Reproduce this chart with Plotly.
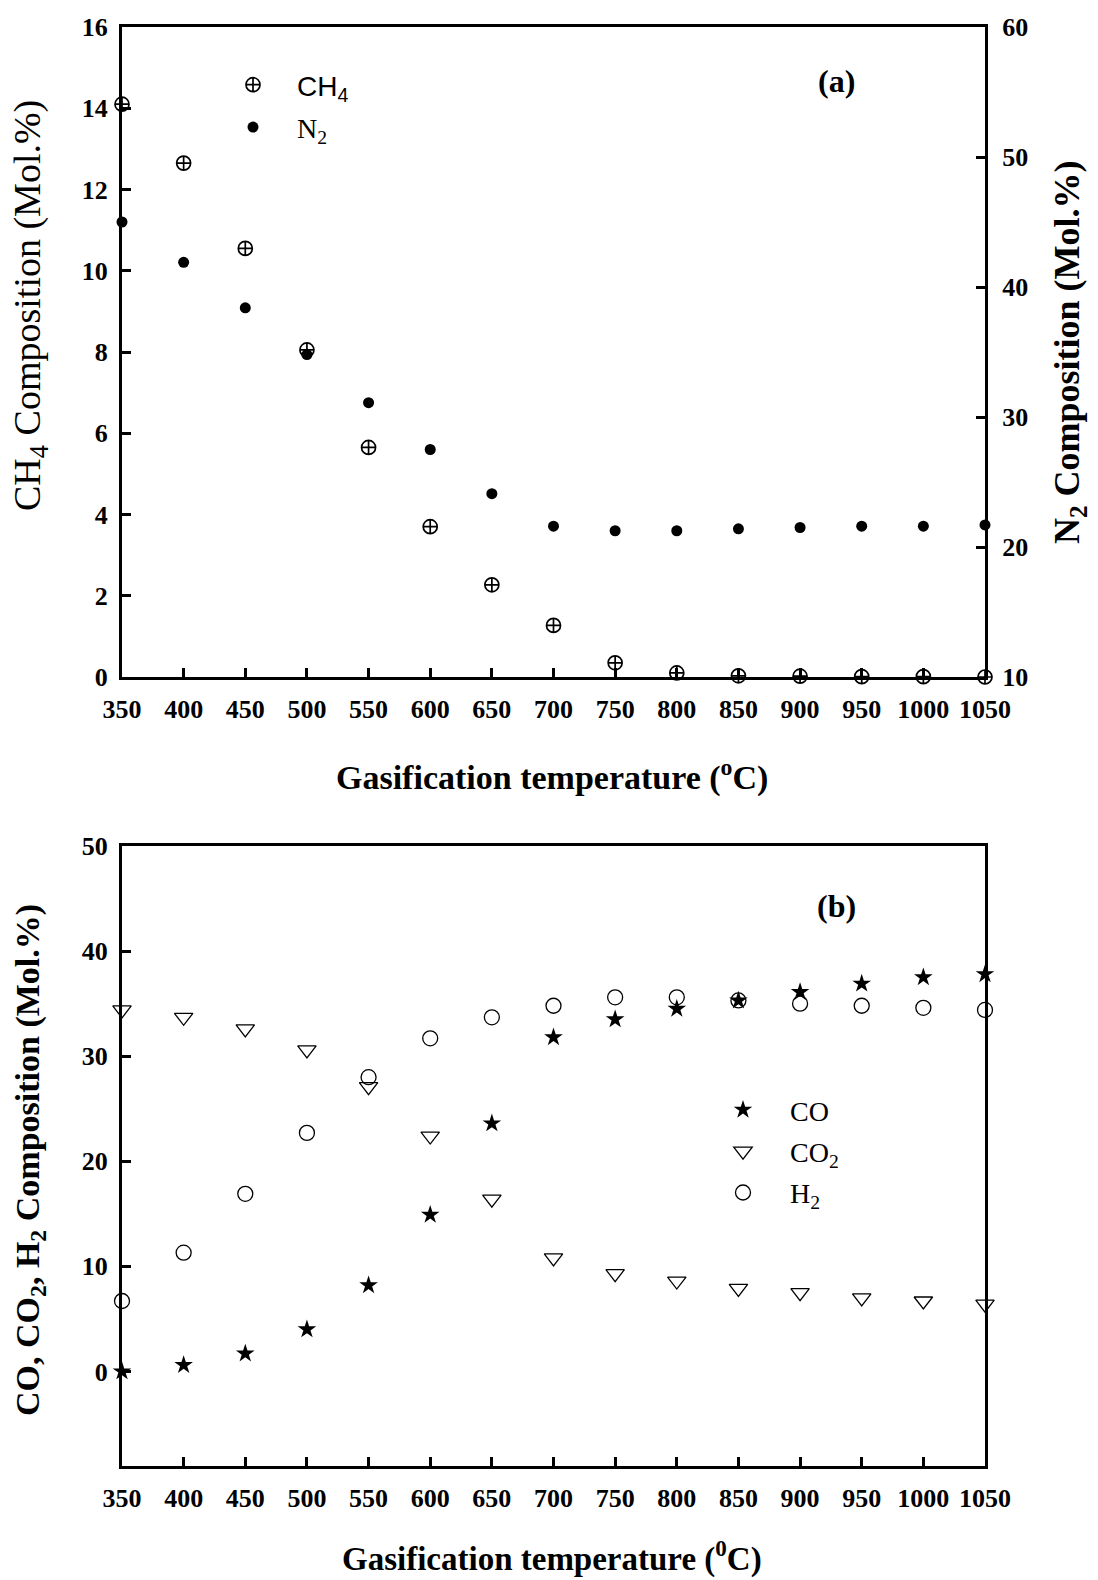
import plotly.graph_objects as go

temps = [350, 400, 450, 500, 550, 600, 650, 700, 750, 800, 850, 900, 950, 1000, 1050]
ch4 = [14.1, 12.65, 10.55, 8.05, 5.65, 3.7, 2.27, 1.27, 0.35, 0.1, 0.03, 0.02, 0.01, 0.01, 0.0]
n2 = [45.0, 41.9, 38.4, 34.8, 31.1, 27.5, 24.1, 21.6, 21.25, 21.25, 21.4, 21.5, 21.6, 21.6, 21.7]
co = [0.0, 0.6, 1.7, 4.0, 8.2, 14.9, 23.6, 31.8, 33.5, 34.5, 35.3, 36.1, 36.9, 37.5, 37.8]
co2 = [34.4, 33.7, 32.6, 30.6, 27.1, 22.4, 16.4, 10.8, 9.3, 8.6, 7.9, 7.5, 7.0, 6.7, 6.4]
h2 = [6.7, 11.3, 16.9, 22.7, 28.0, 31.7, 33.7, 34.8, 35.6, 35.6, 35.3, 35.0, 34.8, 34.6, 34.4]

W, H = 1098, 1580
SERIF = "Liberation Serif, Times New Roman, serif"

def px_x(v):
    return v / W

def px_y(v):
    return 1 - v / H

fig = go.Figure()

fig.add_trace(go.Scatter(x=temps, y=ch4, mode="markers", xaxis="x", yaxis="y",
                         name="<span style='font-family:Liberation Sans'>CH<sub>4</sub></span>",
                         marker=dict(symbol="circle-cross-open", size=14, color="black", line=dict(width=1.7)),
                         cliponaxis=False, legend="legend", legendgroup="a1"))
fig.add_trace(go.Scatter(x=temps, y=n2, mode="markers", xaxis="x", yaxis="y2",
                         name="N<sub>2</sub>",
                         marker=dict(symbol="circle", size=11, color="black"),
                         cliponaxis=False, legend="legend", legendgroup="a2"))

fig.add_trace(go.Scatter(x=temps, y=co, mode="markers", xaxis="x2", yaxis="y3",
                         name="CO",
                         marker=dict(symbol="star", size=14, color="black"),
                         cliponaxis=False, legend="legend2", legendgroup="b1"))
fig.add_trace(go.Scatter(x=temps, y=co2, mode="markers", xaxis="x2", yaxis="y3",
                         name="CO<sub>2</sub>",
                         marker=dict(symbol="triangle-down-open", size=16, color="black", line=dict(width=1.3)),
                         cliponaxis=False, legend="legend2", legendgroup="b2"))
fig.add_trace(go.Scatter(x=temps, y=h2, mode="markers", xaxis="x2", yaxis="y3",
                         name="H<sub>2</sub>",
                         marker=dict(symbol="circle-open", size=15, color="black", line=dict(width=1.3)),
                         cliponaxis=False, legend="legend2", legendgroup="b3"))

xdom = [px_x(122), px_x(985)]
tickfont = dict(family=SERIF, size=26, color="black", weight="bold")

common_x = dict(range=[350, 1050], tickvals=temps, ticks="inside", ticklen=9, tickwidth=2.5,
                showline=True, linewidth=3, linecolor="black", mirror=True, showgrid=False,
                zeroline=False, tickfont=tickfont, tickcolor="black", domain=xdom,
                ticklabelstandoff=7)

common_y = dict(ticks="inside", ticklen=9, tickwidth=2.5, showline=True, linewidth=3,
                linecolor="black", showgrid=False, zeroline=False, tickfont=tickfont,
                tickcolor="black")

fig.update_layout(
    width=W, height=H,
    margin=dict(l=0, r=0, t=0, b=0, autoexpand=False),
    paper_bgcolor="white", plot_bgcolor="white",
    showlegend=True,
    xaxis=dict(common_x, anchor="y"),
    yaxis=dict(common_y, domain=[px_y(677), px_y(27)], range=[0, 16], dtick=2, anchor="x",
               ticklabelstandoff=6),
    yaxis2=dict(common_y, range=[10, 60], dtick=10, overlaying="y", side="right", anchor="x",
                ticklabelstandoff=9),
    xaxis2=dict(common_x, anchor="y3"),
    yaxis3=dict(common_y, domain=[px_y(1466), px_y(846)], range=[-9, 50],
                tickvals=[0, 10, 20, 30, 40, 50], mirror=True, anchor="x2", ticklabelstandoff=6),
    legend=dict(x=px_x(209), y=px_y(60), xanchor="left", yanchor="top", bgcolor="rgba(0,0,0,0)",
                font=dict(family=SERIF, size=28, color="black"), tracegroupgap=3, itemwidth=78),
    legend2=dict(x=px_x(696), y=px_y(1085), xanchor="left", yanchor="top", bgcolor="rgba(0,0,0,0)",
                 font=dict(family=SERIF, size=28, color="black"), tracegroupgap=2, itemwidth=84),
)

def add_text(text, x, y, font, angle=0):
    fig.add_annotation(text=text, x=px_x(x), y=px_y(y), xref="paper", yref="paper",
                       xanchor="center", yanchor="middle", showarrow=False,
                       textangle=angle, font=font)

lab_font = dict(family=SERIF, size=32, color="black", weight="bold")
add_text("(a)", 836, 81, lab_font)
add_text("(b)", 836, 906, lab_font)

add_text("Gasification temperature (<sup>o</sup>C)", 552, 776,
         dict(family=SERIF, size=34, color="black", weight="bold"))
add_text("Gasification temperature (<sup>0</sup>C)", 552, 1556,
         dict(family=SERIF, size=33, color="black", weight="bold"))
add_text("CH<sub>4</sub> Composition (Mol.%)", 30, 306,
         dict(family=SERIF, size=38, color="black", weight="normal"), -90)
add_text("N<sub>2</sub> Composition (Mol.%)", 1070, 352,
         dict(family=SERIF, size=36, color="black", weight="bold"), -90)
add_text("CO, CO<sub>2</sub>, H<sub>2</sub> Composition (Mol.%)", 30, 1160,
         dict(family=SERIF, size=34, color="black", weight="bold"), -90)

fig.write_html("out.html")
